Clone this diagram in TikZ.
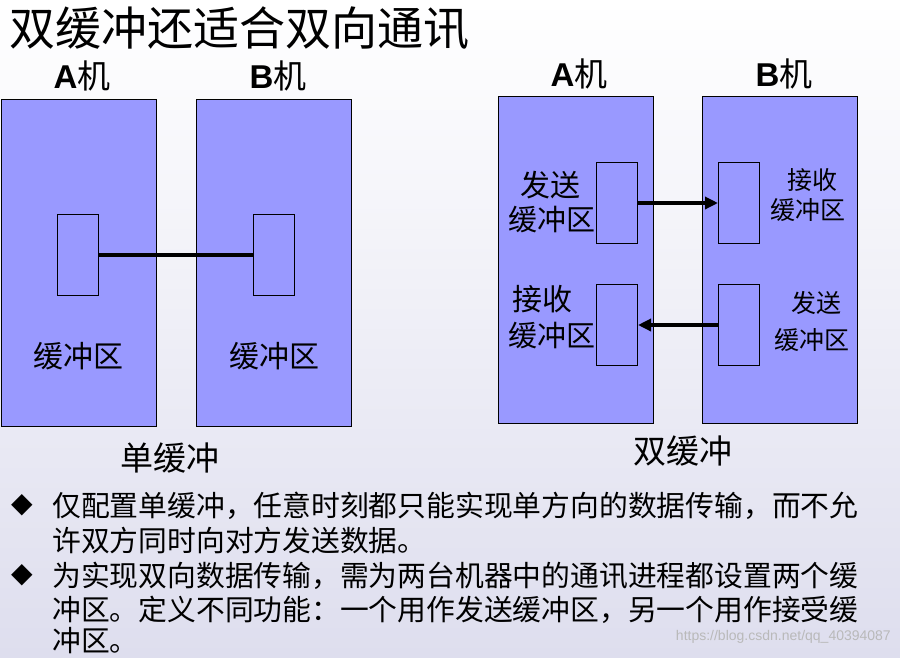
\documentclass[tikz,border=0pt]{standalone}
\usepackage{fontspec}
\setmainfont{Liberation Sans}
\newfontfamily\cjk{Noto Sans CJK SC}
\newfontfamily\dejavu{DejaVu Sans}
\usetikzlibrary{arrows.meta}
\definecolor{boxfill}{HTML}{9999FF}
\definecolor{bgbot}{RGB}{222,222,238}
\begin{document}
\begin{tikzpicture}[x=1pt,y=-1pt,
  bigbox/.style={draw=black,line width=1.3pt,fill=boxfill,minimum width=155pt,minimum height=327pt,anchor=north west,inner sep=0},
  bufbox/.style={draw=black,line width=1pt,fill=boxfill,minimum width=41pt,minimum height=81pt,anchor=north west,inner sep=0},
  link/.style={line width=3.5pt},
  arr/.style={line width=3.5pt,-{Triangle[length=13pt,width=12pt]}},
  lbl/.style={inner sep=0,font=\cjk\fontsize{#1}{#1}\selectfont},
  lbl/.default=30,
  mach/.style={inner sep=0,font=\fontsize{33}{33}\selectfont},
  bul/.style={inner sep=0,font=\dejavu\fontsize{28}{28}\selectfont},
  para/.style={inner sep=0,anchor=west,font=\cjk\fontsize{28.8}{28.8}\selectfont}
]
\useasboundingbox (0,0) rectangle (900,657);
\shade[top color=white,bottom color=bgbot] (0,0) rectangle (900,657);

% title
\node[inner sep=0,anchor=west,font=\cjk\fontsize{46}{46}\selectfont] (title) at (9,28) {双缓冲还适合双向通讯};

% ---------- single buffer ----------
\node[mach] (la) at (82,76) {\textbf{A}{\cjk 机}};
\node[mach] (lb) at (278,76) {\textbf{B}{\cjk 机}};
\node[bigbox] (LA) at (0.8,99) {};
\node[bigbox] (LB) at (196,99) {};
\node[bufbox] (lsa) at (57,214) {};
\node[bufbox] (lsb) at (253,214) {};
\draw[link] (lsa.east) -- (lsb.west);
\node[lbl] (lta) at (78,356) {缓冲区};
\node[lbl] (ltb) at (274,356) {缓冲区};
\node[lbl=33] (single) at (170,458) {单缓冲};

% ---------- double buffer ----------
\node[mach] (ra) at (579,74) {\textbf{A}{\cjk 机}};
\node[mach] (rb) at (784,74) {\textbf{B}{\cjk 机}};
\node[bigbox] (RA) at (498,96) {};
\node[bigbox] (RB) at (702,96) {};
\node[bufbox] (sendA) at (596,162) {};
\node[bufbox] (recvB) at (718,162) {};
\node[bufbox] (recvA) at (596,284) {};
\node[bufbox] (sendB) at (718,284) {};
\draw[arr] (sendA.east) -- (recvB.west);
\draw[arr] (sendB.west) -- (recvA.east);

\node[lbl] (t1) at (550,185) {发送};
\node[lbl=29] (t2) at (552,220) {缓冲区};
\node[lbl] (t3) at (542,299) {接收};
\node[lbl=29] (t4) at (552,336) {缓冲区};
\node[lbl=25] (t5) at (812,180) {接收};
\node[lbl=25] (t6) at (808,210) {缓冲区};
\node[lbl=25] (t7) at (816,303) {发送};
\node[lbl=25] (t8) at (812,340) {缓冲区};
\node[lbl=33] (double) at (683,451) {双缓冲};

% ---------- bullets ----------
\node[bul] (b1) at (22,505) {◆};
\node[para] (p1) at (52,506) {仅配置单缓冲，任意时刻都只能实现单方向的数据传输，而不允};
\node[para] (p2) at (52,541) {许双方同时向对方发送数据。};
\node[bul] (b2) at (22,575) {◆};
\node[para] (p3) at (52,576) {为实现双向数据传输，需为两台机器中的通讯进程都设置两个缓};
\node[para] (p4) at (52,610) {冲区。定义不同功能：一个用作发送缓冲区，另一个用作接受缓};
\node[para] (p5) at (52,641) {冲区。};

\node[inner sep=0,anchor=east,text=gray!55,font=\fontsize{14}{14}\selectfont] (wm) at (891,637) {https://blog.csdn.net/qq\_40394087};
\end{tikzpicture}
\end{document}
